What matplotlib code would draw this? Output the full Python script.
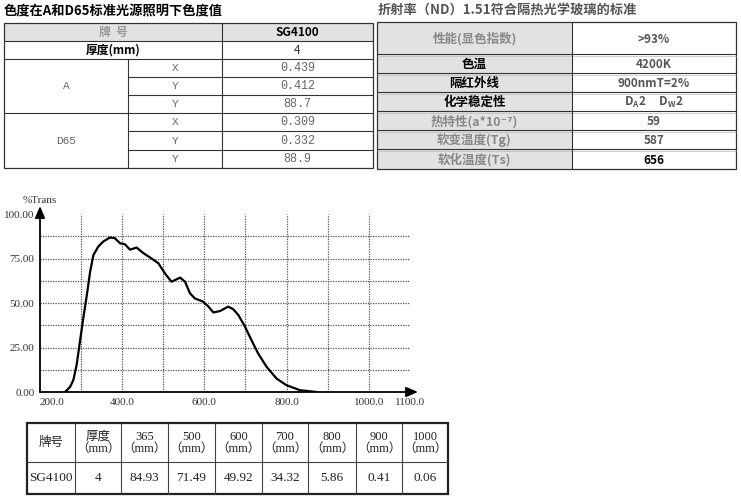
import matplotlib.pyplot as plt
from matplotlib.patches import Rectangle

CJK = ['Noto Sans CJK SC', 'DejaVu Sans']
SERIF = ['Liberation Serif', 'Noto Sans CJK SC']
MONO = ['Liberation Mono', 'Noto Sans CJK SC']

# ---- data ----
left_title = "色度在A和D65标准光源照明下色度值"
right_title = "折射率（ND）1.51符合隔热光学玻璃的标准"

brand = "SG4100"
thickness = "4"
illuminants = ["A", "D65"]
coords = ["X", "Y", "Y"]
a_values = ["0.439", "0.412", "88.7"]
d65_values = ["0.309", "0.332", "88.9"]

prop_names = ["性能(显色指数)", "色温", "隔红外线", "化学稳定性",
              "热特性(a*10⁻⁷)", "软变温度(Tg)", "软化温度(Ts)"]
prop_values = [">93%", "4200K", "900nmT=2%",
               r"D$_\mathregular{A}$2     D$_\mathregular{W}$2", "59", "587", "656"]

wavelength = [261, 273, 281, 289, 297, 305, 314, 322, 330, 342, 354, 370, 382,
              395, 407, 419, 435, 452, 468, 488, 504, 520, 541, 553, 565, 577,
              597, 610, 622, 638, 658, 670, 683, 699, 715, 731, 752, 776, 800,
              833, 873]
trans = [0, 2.8, 6.6, 15, 28, 41, 54.5, 67.7, 77, 81.8, 84.6, 86.8, 86.5,
         83.6, 83, 80, 81.2, 78, 75.6, 72.4, 66.7, 62, 64.3, 62, 55.5, 52.6,
         50.8, 48, 44.7, 45.5, 48, 46.6, 43.2, 36.7, 29, 21.6, 14, 7.5, 3.8,
         1, 0]
ytick_vals = [0, 25, 50, 75, 100]
xtick_vals = [200, 400, 600, 800, 1000, 1100]

table_wl = ["365", "500", "600", "700", "800", "900", "1000"]
table_trans = ["84.93", "71.49", "49.92", "34.32", "5.86", "0.41", "0.06"]

W, H = 741, 501
fig = plt.figure(figsize=(W / 100, H / 100), dpi=100)
ax0 = fig.add_axes([0, 0, 1, 1])
ax0.set_xlim(0, W)
ax0.set_ylim(H, 0)
ax0.axis('off')

GREY = '#e2e2e2'
LINE = '#333333'


def hline(y, x0, x1, lw=0.8, c=LINE):
    ax0.plot([x0, x1], [y, y], color=c, lw=lw, solid_capstyle='butt')


def vline(x, y0, y1, lw=0.8, c=LINE):
    ax0.plot([x, x], [y0, y1], color=c, lw=lw, solid_capstyle='butt')


def txt(x, y, s, size=8.5, color='black', weight='normal', family=CJK, ha='center'):
    ax0.text(x, y, s, fontsize=size, color=color, fontweight=weight,
             family=family, ha=ha, va='center')


# ---- titles ----
txt(4, 11, left_title, size=9.5, weight='bold', ha='left')
txt(378, 11, right_title, size=9.5, color='#555555', weight='bold', ha='left')

# ---- left table ----
ly = [23, 41, 59, 77, 95, 113, 131, 150, 168]
lx = [4, 128, 222, 373]
ax0.add_patch(Rectangle((lx[0], ly[0]), lx[3] - lx[0], ly[1] - ly[0], fc=GREY, ec='none'))
ax0.add_patch(Rectangle((lx[0], ly[0]), lx[3] - lx[0], ly[-1] - ly[0], fc='none', ec=LINE, lw=0.9))
for i, y in enumerate(ly[1:-1], start=1):
    if i in (3, 4, 6, 7):
        hline(y, lx[1], lx[3])
    else:
        hline(y, lx[0], lx[3])
vline(lx[2], ly[0], ly[-1])
vline(lx[1], ly[2], ly[-1])

mid_l = (lx[0] + lx[2]) / 2
mid_v = (lx[2] + lx[3]) / 2
mid_c = (lx[1] + lx[2]) / 2
txt(mid_l, (ly[0] + ly[1]) / 2, "牌  号", color='#999999', weight='bold')
txt(mid_v, (ly[0] + ly[1]) / 2, brand, weight='bold')
txt(mid_l, (ly[1] + ly[2]) / 2, "厚度(mm)", weight='bold')
txt(mid_v, (ly[1] + ly[2]) / 2, thickness, color='#333333')
for k, (name, vals) in enumerate(zip(illuminants, [a_values, d65_values])):
    top = 2 + 3 * k
    txt((lx[0] + lx[1]) / 2, (ly[top] + ly[top + 3]) / 2, name,
        size=8, color='#666666', family=MONO)
    for j in range(3):
        yc = (ly[top + j] + ly[top + j + 1]) / 2
        txt(mid_c, yc, coords[j], size=8, color='#666666', family=MONO)
        txt(mid_v, yc, vals[j], size=8.5, color='#666666', family=MONO)

# ---- right table ----
ry = [22, 54, 73, 92, 111, 130, 149, 169]
rx = [377, 572, 736]
ax0.add_patch(Rectangle((rx[0], ry[0]), rx[1] - rx[0], ry[-1] - ry[0], fc=GREY, ec='none'))
ax0.add_patch(Rectangle((rx[0], ry[0]), rx[2] - rx[0], ry[-1] - ry[0], fc='none', ec=LINE, lw=0.9))
for y in ry[1:-1]:
    hline(y, rx[0], rx[2])
    hline(y + 2, rx[0], rx[2], lw=0.5, c='#bbbbbb')
vline(rx[1], ry[0], ry[-1])
name_colors = ['#888888', 'black', 'black', 'black', '#888888', '#888888', '#888888']
val_colors = ['#555555'] * 6 + ['black']
for i in range(len(prop_names)):
    yc = (ry[i] + ry[i + 1]) / 2 + 1
    txt((rx[0] + rx[1]) / 2, yc, prop_names[i], size=9, color=name_colors[i], weight='bold')
    txt((rx[1] + rx[2]) / 2, yc, prop_values[i], size=8.5, color=val_colors[i], weight='bold')

# ---- transmission chart ----
ax = fig.add_axes([40 / W, (H - 392) / H, 378 / W, 185 / H])
ax.set_xlim(200, 1120)
ax.set_ylim(0, 104)
for s in ax.spines.values():
    s.set_visible(False)
ax.patch.set_alpha(0)

ax.vlines(range(300, 1001, 100), 0, 100, colors='#555555', lw=0.9, linestyles=(0, (1, 1)))
ax.hlines([12.5 * k for k in range(1, 8)], 200, 1100, colors='#555555', lw=0.9,
          linestyles=(0, (1, 1)))
ax.plot(wavelength, trans, color='black', lw=1.6)

arrow = dict(arrowstyle='-|>,head_length=0.7,head_width=0.3', color='black', lw=1.3,
             shrinkA=0, shrinkB=0)
ax.annotate('', xy=(1120, 0), xytext=(200, 0), arrowprops=arrow, annotation_clip=False)
ax.annotate('', xy=(200, 104.5), xytext=(200, 0), arrowprops=arrow, annotation_clip=False)

ax.set_yticks(ytick_vals)
ax.set_yticklabels([f"{v:.2f}" for v in ytick_vals], family=SERIF, fontsize=8, color='#333333')
ax.set_xticks(xtick_vals)
xl = ax.set_xticklabels([f"{v:.1f}" for v in xtick_vals], family=SERIF, fontsize=8,
                        color='#333333')
xl[0].set_horizontalalignment('left')
ax.tick_params(length=0, pad=4)
ax.text(200, 107.5, "%Trans", family=SERIF, fontsize=8, color='#333333',
        ha='center', va='center', clip_on=False)

# ---- bottom table ----
bx = [27, 75, 121, 168, 215, 262, 308, 356, 402, 448]
by = [423, 462, 494]
headers = ["牌号", "厚度\n（mm）"] + [w + "\n（mm）" for w in table_wl]
row = [brand, thickness] + table_trans
for x in bx[1:-1]:
    vline(x, by[0], by[-1], lw=0.8, c='#444444')
hline(by[1], bx[0], bx[-1], lw=0.8, c='#444444')
ax0.add_patch(Rectangle((bx[0], by[0]), bx[-1] - bx[0], by[-1] - by[0], fc='none',
                        ec='#222222', lw=1.6))
for i in range(len(headers)):
    xc = (bx[i] + bx[i + 1]) / 2
    ax0.text(xc, (by[0] + by[1]) / 2, headers[i], family=SERIF, fontsize=9,
             color='#222222', ha='center', va='center', linespacing=1.0)
    ax0.text(xc, (by[1] + by[2]) / 2, row[i], family=SERIF, fontsize=9.5,
             color='#222222', ha='center', va='center')

fig.savefig('out.png', dpi=100)
